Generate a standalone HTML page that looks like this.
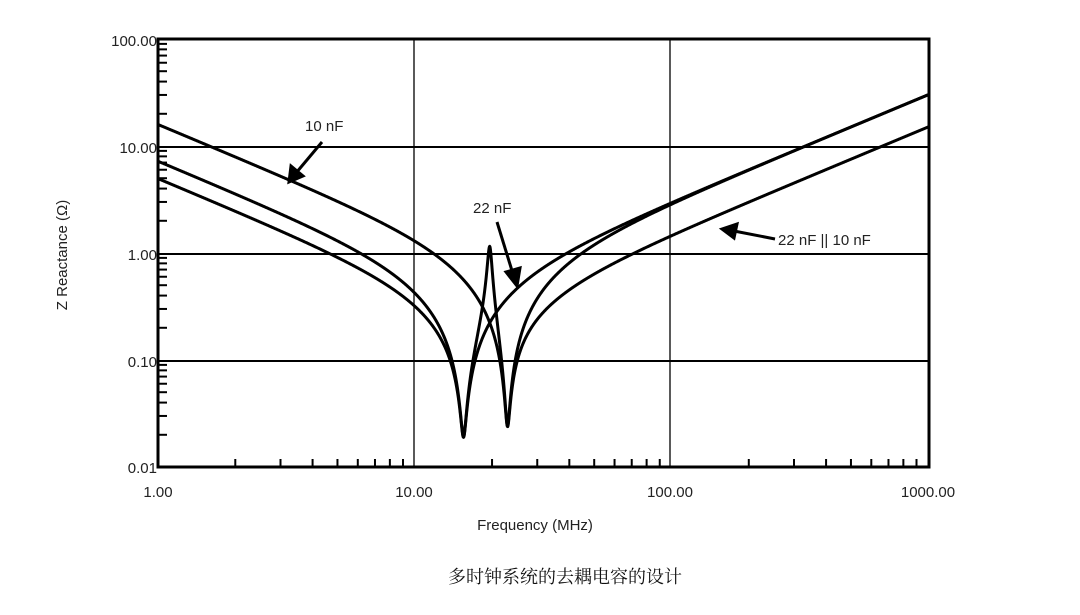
<!DOCTYPE html>
<html><head><meta charset="utf-8"><style>
html,body{margin:0;padding:0;background:#fff;}
body{width:1080px;height:615px;overflow:hidden;position:relative;}
svg{position:absolute;left:0;top:0;}
</style></head><body>
<svg id="s" width="1080" height="615" xmlns="http://www.w3.org/2000/svg" font-family="Liberation Sans, Arial, sans-serif">
<g id="grid"></g>
<g id="curves" fill="none" stroke="#000" stroke-width="3" stroke-linejoin="round"></g>
<rect x="158" y="39" width="771" height="428" fill="none" stroke="#000" stroke-width="3"/>
<g font-size="15" fill="#222" text-anchor="end">
<text x="157" y="46">100.00</text>
<text x="157" y="153">10.00</text>
<text x="157" y="260">1.00</text>
<text x="157" y="367">0.10</text>
<text x="157" y="473">0.01</text>
</g>
<g font-size="15" fill="#222" text-anchor="middle">
<text x="158" y="497">1.00</text>
<text x="414" y="497">10.00</text>
<text x="670" y="497">100.00</text>
<text x="928" y="497">1000.00</text>
<text x="535" y="530">Frequency (MHz)</text>
<text transform="translate(67,255) rotate(-90)">Z Reactance (Ω)</text>
</g>
<g font-size="15" fill="#222">
<text x="305" y="131">10 nF</text>
<text x="473" y="213">22 nF</text>
<text x="778" y="245">22 nF || 10 nF</text>
</g>
<g stroke="#000" stroke-width="3" fill="#000">
<line x1="322" y1="142" x2="296" y2="173"/>
<polygon points="289,182 291,166 303,176"/>
<line x1="497" y1="222" x2="513" y2="274"/>
<polygon points="517,286 506,272 520,268"/>
<line x1="775" y1="239" x2="734" y2="231"/>
<polygon points="722,229 737,224 734,238"/>
</g>
<text x="565" y="583" font-size="18" text-anchor="middle" font-family="Liberation Serif, Noto Serif CJK SC, serif" fill="#111">多时钟系统的去耦电容的设计</text>
</svg>
<script>
function X(f){return 158+256.75*Math.log10(f);}
function Y(z){return 467-107*(Math.log10(z)+2);}
var g=document.getElementById('grid'),h='';
[147,254,361].forEach(function(y){h+='<line x1="158" y1="'+y+'" x2="929" y2="'+y+'" stroke="#000" stroke-width="2"/>';});
[414,670].forEach(function(x){h+='<line x1="'+x+'" y1="39" x2="'+x+'" y2="467" stroke="#000" stroke-width="1.3"/>';});
for(var d=0;d<3;d++)for(var k=2;k<10;k++){var x=X(Math.pow(10,d)*k);h+='<line x1="'+x+'" y1="467" x2="'+x+'" y2="459" stroke="#000" stroke-width="2"/>';}
for(var d=-2;d<2;d++)for(var k=2;k<10;k++){var y=Y(Math.pow(10,d)*k);h+='<line x1="158" y1="'+y+'" x2="167" y2="'+y+'" stroke="#000" stroke-width="2"/>';}
g.innerHTML=h;
var L=4.8e-9;
function zc(f,C,R){var w=2*Math.PI*f*1e6;return [R,w*L-1/(w*C)];}
function par(a,b){var nr=a[0]*b[0]-a[1]*b[1],ni=a[0]*b[1]+a[1]*b[0];var dr=a[0]+b[0],di=a[1]+b[1];var m=dr*dr+di*di;return [(nr*dr+ni*di)/m,(ni*dr-nr*di)/m];}
function mag(c){return Math.sqrt(c[0]*c[0]+c[1]*c[1]);}
var fns=[function(f){return mag(zc(f,10e-9,0.024));},function(f){return mag(zc(f,22e-9,0.019));},function(f){return mag(par(zc(f,10e-9,0.024),zc(f,22e-9,0.019)));}];
var cg=document.getElementById('curves'),out='';
fns.forEach(function(fn){var p=[];for(var i=0;i<=3000;i++){var f=Math.pow(10,3*i/3000);var z=fn(f);var y=Math.min(467,Math.max(39,Y(z)));p.push(X(f).toFixed(2)+','+y.toFixed(2));}out+='<polyline points="'+p.join(' ')+'"/>';});
cg.innerHTML=out;
</script>
</body></html>
